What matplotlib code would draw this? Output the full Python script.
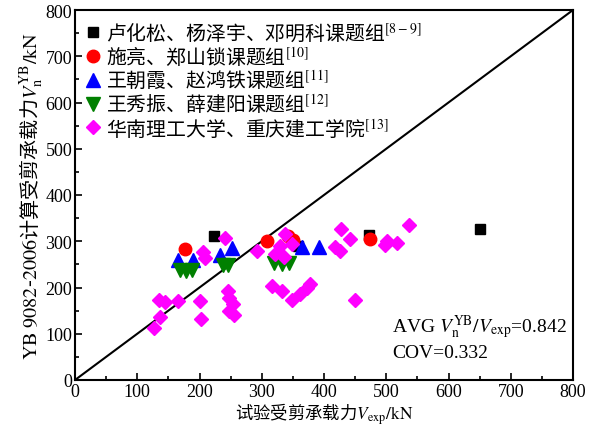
import matplotlib
matplotlib.use("Agg")
import matplotlib.pyplot as plt
from matplotlib.ticker import MultipleLocator

plt.rcParams['font.family'] = ['Liberation Serif', 'Noto Sans CJK SC']
plt.rcParams['mathtext.fontset'] = 'stix'

# ---- data ----
lu_x = [223, 359, 472, 650]
lu_y = [312, 290, 314, 326]

shi_x = [176, 308, 342, 350, 474]
shi_y = [284, 300, 312, 303, 305]

wang_cx_x = [165, 189, 233, 253, 365, 392]
wang_cx_y = [259, 259, 270, 286, 288, 288]

wang_xz_x = [168, 178, 188, 238, 246, 320, 332, 344]
wang_xz_y = [238, 235, 238, 249, 249, 252, 250, 252]

hn_x = [241, 206, 209, 292, 321, 316, 135, 145, 166, 201, 246, 247, 254, 248, 255,
        202, 136, 127, 337, 329, 335, 348, 428, 442, 418, 426, 498, 502, 518, 537,
        332, 348, 361, 372, 378, 450]
hn_y = [308, 276, 263, 279, 272, 203, 174, 168, 171, 170, 192, 178, 164, 149, 141,
        132, 136, 112, 315, 290, 265, 294, 326, 305, 287, 280, 291, 300, 297, 336,
        192, 172, 186, 200, 208, 174]

labels = [r"卢化松、杨泽宇、邓明科课题组$^{[8-9]}$",
          r"施亮、郑山锁课题组$^{[10]}$",
          r"王朝霞、赵鸿铁课题组$^{[11]}$",
          r"王秀振、薛建阳课题组$^{[12]}$",
          r"华南理工大学、重庆建工学院$^{[13]}$"]

avg_text = r"AVG $V_\mathrm{n}^\mathrm{YB}/V_\mathrm{exp}$=0.842"
cov_text = "COV=0.332"

fig = plt.figure(figsize=(5.94, 4.27), dpi=100)
ax = fig.add_axes([75/594, (427-381)/427, 498/594, (381-11)/427])

ax.plot([0, 800], [0, 800], color='black', lw=1.5, zorder=1)

ax.plot(lu_x, lu_y, 's', color='black', ms=7, label=labels[0], zorder=3)
ax.plot(shi_x, shi_y, 'o', color='red', ms=9, label=labels[1], zorder=3)
ax.plot(wang_cx_x, wang_cx_y, '^', color='blue', ms=9.5, label=labels[2], zorder=3)
ax.plot(wang_xz_x, wang_xz_y, 'v', color='green', ms=9.5, label=labels[3], zorder=3)
ax.plot(hn_x, hn_y, 'D', color='magenta', ms=7.5, label=labels[4], zorder=4)

ax.set_xlim(0, 800)
ax.set_ylim(0, 800)
ax.xaxis.set_major_locator(MultipleLocator(100))
ax.yaxis.set_major_locator(MultipleLocator(100))
ax.xaxis.set_minor_locator(MultipleLocator(50))
ax.yaxis.set_minor_locator(MultipleLocator(50))
ax.tick_params(which='both', direction='in', top=False, right=False, labelsize=13, width=1.2)
ax.tick_params(which='major', length=5, pad=2)
ax.tick_params(which='minor', length=3)
for s in ax.spines.values():
    s.set_linewidth(1.5)

cjk = ['Noto Sans CJK SC']
ax.set_xlabel(r"试验受剪承载力$V_\mathrm{exp}/\mathrm{kN}$", fontsize=12.5, family=cjk, labelpad=0.5)
ax.set_ylabel(r"$\mathrm{YB\ 9082}$-$\mathrm{2006}$计算受剪承载力$V_\mathrm{n}^\mathrm{YB}/\mathrm{kN}$",
              fontsize=14.5, family=cjk, labelpad=0)

ax.text(510, 105, avg_text, fontsize=14, va='baseline', ha='left')
ax.text(510, 50, cov_text, fontsize=14, va='baseline', ha='left')

leg = ax.legend(loc='upper left', frameon=False, prop={'family': cjk, 'size': 14.3},
                handlelength=0.7, handletextpad=0.3, labelspacing=0.02,
                borderaxespad=0.3, borderpad=0.25)

fig.savefig('out.png', dpi=100)
